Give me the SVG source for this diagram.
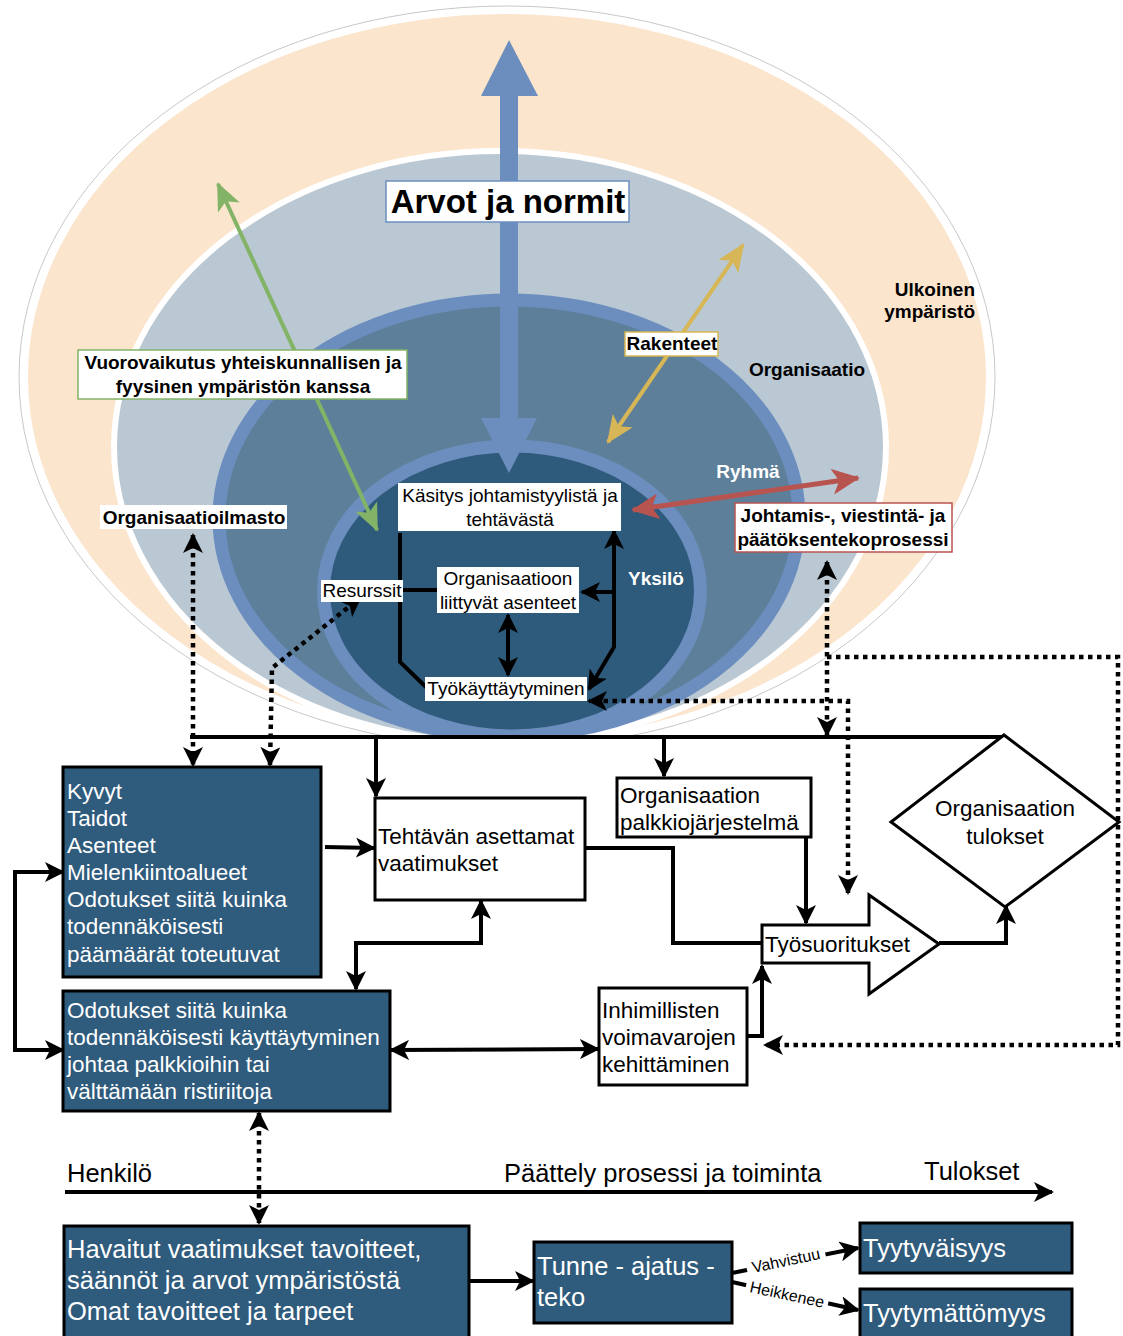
<svg xmlns="http://www.w3.org/2000/svg" width="1123" height="1336" viewBox="0 0 1123 1336">
<style>
.t{font-family:"Liberation Sans",Arial,Helvetica,sans-serif;}
.b{font-family:"Liberation Sans",Arial,Helvetica,sans-serif;font-weight:bold;font-size:19px;}
.s19{font-size:19px;fill:#000;}
.s22{font-size:22.5px;}
.s25{font-size:25.5px;}
.w{fill:#fff;}
.box{stroke:#000;stroke-width:3;}
.dark{fill:#2F5B7C;}
.white{fill:#fff;}
.ln{fill:none;stroke:#000;stroke-width:4;}
.dot{fill:none;stroke:#000;stroke-width:4.5;stroke-dasharray:4.5 4.5;}
</style>
<defs>
<marker id="ah" viewBox="0 0 20 20" markerWidth="20" markerHeight="20" refX="18" refY="10" orient="auto-start-reverse" markerUnits="userSpaceOnUse"><path d="M0,0 L20,10 L0,20 L5,10 Z" fill="#000"/></marker>
<marker id="ag" viewBox="0 0 28 24" markerWidth="28" markerHeight="24" refX="26" refY="12" orient="auto-start-reverse" markerUnits="userSpaceOnUse"><path d="M0,0 L28,12 L0,24 L7,12 Z" fill="#82B366"/></marker>
<marker id="ay" viewBox="0 0 28 24" markerWidth="28" markerHeight="24" refX="26" refY="12" orient="auto-start-reverse" markerUnits="userSpaceOnUse"><path d="M0,0 L28,12 L0,24 L7,12 Z" fill="#D6B656"/></marker>
<marker id="ar" viewBox="0 0 28 26" markerWidth="28" markerHeight="26" refX="26" refY="13" orient="auto-start-reverse" markerUnits="userSpaceOnUse"><path d="M0,0 L28,13 L0,26 L7,13 Z" fill="#B85450"/></marker>
<clipPath id="clipTop"><rect x="0" y="0" width="1123" height="738"/></clipPath>
</defs>
<rect width="1123" height="1336" fill="#fff"/>

<g id="layers" clip-path="url(#clipTop)">
<ellipse cx="507" cy="377" rx="488" ry="371" fill="none" stroke="#c8c8c8" stroke-width="1"/>
<ellipse id="ulkoinen" cx="507" cy="377" rx="482" ry="366" fill="#FCE5CD" stroke="#fff" stroke-width="6"/>
<ellipse id="organisaatio" cx="500" cy="447" rx="386" ry="296" fill="#BAC8D3" stroke="#fff" stroke-width="6"/>
<ellipse id="ryhma" cx="509" cy="518" rx="290" ry="218" fill="#5D7F99" stroke="#6C8EBF" stroke-width="13"/>
<ellipse id="yksilo" cx="512" cy="591" rx="188.5" ry="145" fill="#2E5A7C" stroke="#6C8EBF" stroke-width="13"/>
</g>

<g id="arvot-arrow" fill="#6C8EBF">
<polygon points="509,40 538,96 481,96"/>
<rect x="500" y="94" width="18" height="326"/>
<polygon points="481,418 537,418 509,473"/>
</g>

<g id="connectors">
<line x1="218" y1="184" x2="377" y2="530" stroke="#82B366" stroke-width="4" marker-start="url(#ag)" marker-end="url(#ag)"/>
<line x1="743" y1="245" x2="608" y2="442" stroke="#D6B656" stroke-width="4" marker-start="url(#ay)" marker-end="url(#ay)"/>
<line x1="633" y1="510" x2="858" y2="478" stroke="#B85450" stroke-width="5" marker-start="url(#ar)" marker-end="url(#ar)"/>

<path class="ln" d="M400,533 L400,662 L427,688"/>
<path class="ln" d="M403,590 L437,590"/>
<path class="ln" d="M614,531 L614,647 L589,689" marker-start="url(#ah)" marker-end="url(#ah)"/>
<path class="ln" d="M614,592 L582,592" marker-end="url(#ah)"/>
<path class="ln" d="M508,615 L508,675" marker-start="url(#ah)" marker-end="url(#ah)"/>

<path class="dot" d="M193,535 L193,765" marker-start="url(#ah)" marker-end="url(#ah)"/>
<path class="dot" d="M270,765 L272,668 L360,598" marker-start="url(#ah)" marker-end="url(#ah)"/>
<path class="dot" d="M827,562 L827,735" marker-start="url(#ah)" marker-end="url(#ah)"/>
<path class="dot" d="M827,657 L1118,657 L1118,1045 L765,1045" marker-end="url(#ah)"/>
<path class="dot" d="M848,893 L848,701 L589,701" marker-start="url(#ah)" marker-end="url(#ah)"/>

<path class="ln" d="M190,737 L1004,737"/>
<path class="ln" d="M376,737 L376,796" marker-end="url(#ah)"/>
<path class="ln" d="M664,737 L664,776" marker-end="url(#ah)"/>
<path class="ln" d="M325,847 L374,848" marker-end="url(#ah)"/>
<path class="ln" d="M63,872 L15,872 L15,1050 L63,1050" marker-start="url(#ah)" marker-end="url(#ah)"/>
<path class="ln" d="M481,901 L481,943 L356,943 L356,989" marker-start="url(#ah)" marker-end="url(#ah)"/>
<path class="ln" d="M391,1050 L598,1049" marker-start="url(#ah)" marker-end="url(#ah)"/>
<path class="ln" d="M584,848 L673,848 L673,943 L762,943"/>
<path class="ln" d="M806,838 L806,923" marker-end="url(#ah)"/>
<path class="ln" d="M747,1036 L762,1036 L762,966" marker-end="url(#ah)"/>
<path class="ln" d="M939,943 L1006,943 L1006,906" marker-end="url(#ah)"/>
<path class="dot" d="M259,1113 L259,1223" marker-start="url(#ah)" marker-end="url(#ah)"/>
<path class="ln" d="M65,1192 L1052,1192" marker-end="url(#ah)"/>
<path class="ln" d="M469,1281 L533,1281" marker-end="url(#ah)"/>
<path class="ln" d="M732,1273 L858,1248" marker-end="url(#ah)"/>
<path class="ln" d="M732,1282 L858,1310" marker-end="url(#ah)"/>
<g class="t" font-size="16" text-anchor="middle">
<g transform="translate(786,1261) rotate(-12)"><rect x="-40" y="-10" width="80" height="18" fill="#fff"/><text x="0" y="5">Vahvistuu</text></g>
<g transform="translate(787,1295) rotate(12)"><rect x="-42" y="-10" width="84" height="18" fill="#fff"/><text x="0" y="5">Heikkenee</text></g>
</g>
</g>

<g id="label-arvot">
<rect x="386" y="181" width="243" height="41" fill="#fff" stroke="#6C8EBF" stroke-width="1.5"/>
<text class="t" x="508" y="213" font-size="33" font-weight="bold" text-anchor="middle">Arvot ja normit</text>
</g>
<g id="label-vuorovaikutus">
<rect x="78" y="350" width="329" height="49" fill="#fff" stroke="#82B366" stroke-width="1.5"/>
<text class="b" x="243" y="369" text-anchor="middle">Vuorovaikutus yhteiskunnallisen ja</text>
<text class="b" x="243" y="393" text-anchor="middle">fyysinen ympäristön kanssa</text>
</g>
<g id="label-rakenteet">
<rect x="625" y="332" width="93" height="24" fill="#fff" stroke="#D6B656" stroke-width="1.5"/>
<text class="b" x="672" y="350" text-anchor="middle">Rakenteet</text>
</g>
<g id="label-johtamis">
<rect x="735" y="503" width="217" height="49" fill="#fff" stroke="#B85450" stroke-width="1.5"/>
<text class="b" x="843" y="522" text-anchor="middle">Johtamis-, viestintä- ja</text>
<text class="b" x="843" y="546" text-anchor="middle">päätöksentekoprosessi</text>
</g>
<g id="label-ulkoinen">
<text class="b" x="975" y="296" text-anchor="end">Ulkoinen</text>
<text class="b" x="975" y="318" text-anchor="end">ympäristö</text>
</g>
<g id="label-organisaatio"><text class="b" x="807" y="376" text-anchor="middle">Organisaatio</text></g>
<g id="label-ryhma"><text class="b" x="748" y="478" text-anchor="middle" fill="#fff">Ryhmä</text></g>
<g id="label-yksilo"><text class="b" x="656" y="585" text-anchor="middle" fill="#fff">Yksilö</text></g>
<g id="label-ilmasto">
<rect x="100" y="505" width="187" height="24" fill="#fff"/>
<text class="b" x="194" y="524" text-anchor="middle">Organisaatioilmasto</text>
</g>

<g id="kasitys">
<rect x="398" y="483" width="223" height="48" fill="#fff"/>
<text class="t s19" x="510" y="502" text-anchor="middle">Käsitys johtamistyylistä ja</text>
<text class="t s19" x="510" y="526" text-anchor="middle">tehtävästä</text>
</g>
<g id="asenteet">
<rect x="437" y="567" width="142" height="46" fill="#fff"/>
<text class="t s19" x="508" y="585" text-anchor="middle">Organisaatioon</text>
<text class="t s19" x="508" y="609" text-anchor="middle">liittyvät asenteet</text>
</g>
<g id="resurssit">
<rect x="321" y="580" width="82" height="22" fill="#fff"/>
<text class="t s19" x="362" y="597" text-anchor="middle">Resurssit</text>
</g>
<g id="tyokayttaytyminen">
<rect x="425" y="677" width="162" height="24" fill="#fff"/>
<text class="t s19" x="506" y="695" text-anchor="middle">Työkäyttäytyminen</text>
</g>

<g id="kyvyt">
<rect class="box dark" x="63" y="767" width="258" height="210"/>
<g class="t s22 w">
<text x="67" y="799">Kyvyt</text>
<text x="67" y="826">Taidot</text>
<text x="67" y="853">Asenteet</text>
<text x="67" y="880">Mielenkiintoalueet</text>
<text x="67" y="907">Odotukset siitä kuinka</text>
<text x="67" y="934">todennäköisesti</text>
<text x="67" y="962">päämäärät toteutuvat</text>
</g>
</g>
<g id="odotukset">
<rect class="box dark" x="63" y="991" width="327" height="120"/>
<g class="t s22 w">
<text x="67" y="1018">Odotukset siitä kuinka</text>
<text x="67" y="1045">todennäköisesti käyttäytyminen</text>
<text x="67" y="1072">johtaa palkkioihin tai</text>
<text x="67" y="1099">välttämään ristiriitoja</text>
</g>
</g>
<g id="tehtavan">
<rect class="box white" x="375" y="798" width="210" height="102"/>
<text class="t s22" x="378" y="844">Tehtävän asettamat</text>
<text class="t s22" x="378" y="871">vaatimukset</text>
</g>
<g id="palkkio">
<rect class="box white" x="617" y="778" width="194" height="59"/>
<text class="t s22" x="620" y="803">Organisaation</text>
<text class="t s22" x="620" y="830">palkkiojärjestelmä</text>
</g>
<g id="tulokset">
<polygon class="box white" points="1004,735 1119,822 1005,907 891,822"/>
<text class="t s22" x="1005" y="816" text-anchor="middle">Organisaation</text>
<text class="t s22" x="1005" y="844" text-anchor="middle">tulokset</text>
</g>
<g id="tyosuoritukset">
<polygon class="box white" points="762,925 869,925 869,895 939,944 869,994 869,963 762,963"/>
<text class="t s22" x="765" y="952">Työsuoritukset</text>
</g>
<g id="inhimillisten">
<rect class="box white" x="599" y="988" width="148" height="97"/>
<text class="t s22" x="602" y="1018">Inhimillisten</text>
<text class="t s22" x="602" y="1045">voimavarojen</text>
<text class="t s22" x="602" y="1072">kehittäminen</text>
</g>

<g id="axis-labels" class="t s25">
<text x="67" y="1182">Henkilö</text>
<text x="504" y="1182">Päättely prosessi ja toiminta</text>
<text x="924" y="1180">Tulokset</text>
</g>
<g id="havaitut">
<rect class="box dark" x="64" y="1226" width="405" height="115"/>
<g class="t s25 w">
<text x="67" y="1258">Havaitut vaatimukset tavoitteet,</text>
<text x="67" y="1289">säännöt ja arvot ympäristöstä</text>
<text x="67" y="1320">Omat tavoitteet ja tarpeet</text>
</g>
</g>
<g id="tunne">
<rect class="box dark" x="534" y="1242" width="198" height="81"/>
<text class="t s25 w" x="537" y="1275">Tunne - ajatus -</text>
<text class="t s25 w" x="537" y="1306">teko</text>
</g>
<g id="tyytyvaisyys">
<rect class="box dark" x="860" y="1223" width="212" height="50"/>
<text class="t s25 w" x="863" y="1257">Tyytyväisyys</text>
</g>
<g id="tyytymattomyys">
<rect class="box dark" x="860" y="1289" width="212" height="55"/>
<text class="t s25 w" x="863" y="1322">Tyytymättömyys</text>
</g>
</svg>
